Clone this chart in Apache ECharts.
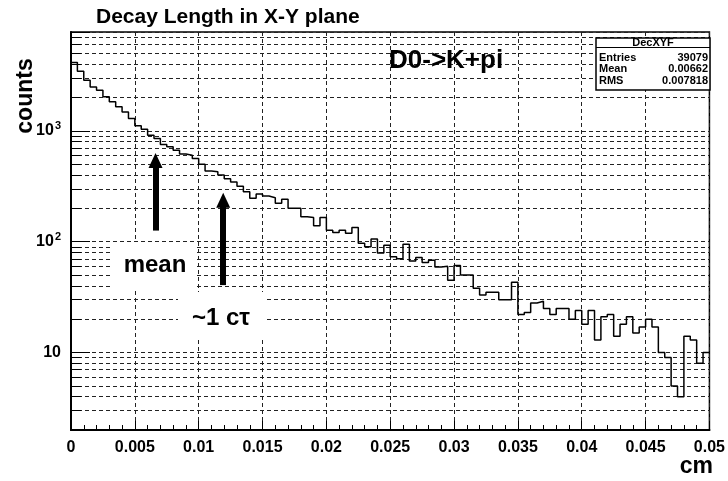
<!DOCTYPE html>
<html><head><meta charset="utf-8">
<script src="https://cdn.jsdelivr.net/npm/echarts@6/dist/echarts.min.js"></script>
<style>html,body{margin:0;padding:0;background:#fff}#c{width:728px;height:481px}</style>
</head><body><div id="c"></div>
<script>
// ---- data ----
const binWidth = 0.0005;
const counts = [
  4130, 3450, 2860, 2490, 2330, 2030, 1830, 1650, 1480, 1290,
  1110, 1035, 915, 853, 754, 718, 670, 617, 604, 564,
  500, 435, 427, 399, 370, 345, 317, 282, 246, 270,
  258, 249, 222, 242, 200, 200, 168, 165, 139, 165,
  127, 121, 127, 119, 134, 97, 90, 106, 79, 93,
  73, 70, 95, 67, 72, 65, 68, 59, 60, 45,
  61, 50, 50, 38, 33, 35, 35, 30, 30, 43,
  22, 23, 28, 29, 25, 22, 25, 25, 20, 24,
  18, 24, 13, 21, 22, 14, 18, 21, 15, 17,
  20, 17, 10, 9, 5, 4, 14, 13, 8, 10
];
const xRange = [0, 0.05];
const xTickStep = 0.005;
const yRange = [2, 7800];
const yMinorGrid = [3,4,5,6,7,8,9, 20,30,40,50,60,70,80,90, 200,300,400,500,600,700,800,900, 2000,3000,4000,5000,6000,7000];
const yMinorTickLen = 0.0008;
const statsTitle = 'DecXYF';
const statsLabels = ['Entries', 'Mean', 'RMS'];
const statsValues = ['39079', '0.00662', '0.007818'];
// annotation arrows: [x, y from, y to]
const meanArrow = [0.00662, 126, 541];
const ctauArrow = [0.01192, 40.6, 236];

const FONT = "'Liberation Sans', Arial, Helvetica, sans-serif";
const dash = [4, 3];

const histData = counts.map((c, i) => [i * binWidth, c]);
histData.push([xRange[1], counts[counts.length - 1]]);

const chart = echarts.init(document.getElementById('c'), null, {renderer: 'canvas'});

function yLabel(v) {
  const e = Math.log10(v);
  if (Math.abs(e - Math.round(e)) > 1e-6) return '';
  const n = Math.round(e);
  if (n === 1) return '{b|10}';
  return '{b|10}{s|' + n + '}';
}

chart.setOption({
  animation: false,
  backgroundColor: '#fff',
  grid: {left: 71, right: 17, top: 32, bottom: 51, show: true, borderColor: '#000', borderWidth: 1.5, backgroundColor: 'transparent'},
  xAxis: {
    type: 'value', min: xRange[0], max: xRange[1], interval: xTickStep,
    axisLine: {show: true, lineStyle: {color: '#000', width: 2}},
    axisTick: {show: true, inside: true, length: 9, lineStyle: {color: '#000', width: 1}},
    minorTick: {show: true, splitNumber: 5, length: 5, lineStyle: {color: '#000', width: 1}},
    splitLine: {show: true, lineStyle: {color: '#222', width: 1, type: dash}},
    axisLabel: {color: '#000', fontFamily: FONT, fontSize: 16, fontWeight: 'bold', margin: 10,
      formatter: v => String(Math.round(v * 1000) / 1000)}
  },
  yAxis: {
    type: 'log', logBase: 10, min: yRange[0], max: yRange[1],
    axisLine: {show: true, lineStyle: {color: '#000', width: 2}},
    axisTick: {show: true, inside: true, length: 19, lineStyle: {color: '#000', width: 1}},
    splitLine: {show: true, lineStyle: {color: '#222', width: 1, type: dash}},
    axisLabel: {color: '#000', fontFamily: FONT, margin: 10, formatter: yLabel,
      rich: {b: {fontSize: 16, fontWeight: 'bold', fontFamily: FONT, color: '#000'},
             s: {fontSize: 11, fontWeight: 'bold', fontFamily: FONT, color: '#000', padding: [0, 0, 10, 1]}}}
  },
  series: [
    {
      type: 'line', step: 'end', data: histData, symbol: 'none', silent: true,
      lineStyle: {color: '#000', width: 1.5}, z: 5,
      markLine: {
        silent: true, symbol: 'none', animation: false,
        label: {show: false},
        lineStyle: {color: '#222', width: 1, type: dash},
        data: yMinorGrid.map(v => ({yAxis: v}))
      }
    },
    {
      type: 'line', data: [], symbol: 'none', silent: true, z: 4,
      markLine: {
        silent: true, symbol: 'none', animation: false,
        label: {show: false},
        lineStyle: {color: '#000', width: 1, type: 'solid'},
        data: yMinorGrid.map(v => [{coord: [xRange[0], v]}, {coord: [xRange[0] + yMinorTickLen, v]}])
      }
    },
    {
      type: 'line', data: [], symbol: 'none', silent: true, z: 6,
      markLine: {
        silent: true, animation: false, symbol: ['none', 'triangle'], symbolSize: [14, 15],
        label: {show: false},
        lineStyle: {color: '#000', width: 6, type: 'solid'},
        itemStyle: {color: '#000'},
        data: [
          [{coord: [meanArrow[0], meanArrow[1]]}, {coord: [meanArrow[0], meanArrow[2]]}],
          [{coord: [ctauArrow[0], ctauArrow[1]]}, {coord: [ctauArrow[0], ctauArrow[2]]}]
        ]
      }
    }
  ],
  graphic: [
    // title (white pave covering top frame)
    {type: 'rect', z: 100, shape: {x: 85, y: 0, width: 318, height: 31}, style: {fill: '#fff'}},
    {type: 'text', z: 101, x: 96, y: 17, style: {text: 'Decay Length in X-Y plane', font: 'bold 21px ' + FONT, fill: '#000', textAlign: 'left', textVerticalAlign: 'middle', verticalAlign: 'middle'}},
    // axis titles
    {type: 'text', z: 101, x: 26, y: 96, rotation: Math.PI / 2, style: {text: 'counts', font: 'bold 23px ' + FONT, fill: '#000', textAlign: 'center', textVerticalAlign: 'middle', verticalAlign: 'middle'}},
    {type: 'text', z: 101, x: 713, y: 467, style: {text: 'cm', font: 'bold 23px ' + FONT, fill: '#000', textAlign: 'right', textVerticalAlign: 'middle', verticalAlign: 'middle'}},
    // decay label
    {type: 'text', z: 101, x: 389, y: 61, style: {text: 'D0->K+pi', font: 'bold 26px ' + FONT, fill: '#000', textAlign: 'left', textVerticalAlign: 'middle', verticalAlign: 'middle'}},
    // mean label box
    {type: 'rect', z: 100, shape: {x: 113, y: 242, width: 83, height: 48}, style: {fill: '#fff'}},
    {type: 'text', z: 101, x: 155, y: 265, style: {text: 'mean', font: 'bold 24px ' + FONT, fill: '#000', textAlign: 'center', textVerticalAlign: 'middle', verticalAlign: 'middle'}},
    // ctau label box
    {type: 'rect', z: 100, shape: {x: 178, y: 292, width: 89, height: 45}, style: {fill: '#fff'}},
    {type: 'text', z: 101, x: 221, y: 318, style: {text: '~1 c\u03c4', font: 'bold 24px ' + FONT, fill: '#000', textAlign: 'center', textVerticalAlign: 'middle', verticalAlign: 'middle'}},
    // stats box
    {type: 'rect', z: 100, shape: {x: 596, y: 38, width: 114, height: 52}, style: {fill: '#fff', stroke: '#000', lineWidth: 1.5}},
    {type: 'line', z: 101, shape: {x1: 596, y1: 47.5, x2: 710, y2: 47.5}, style: {stroke: '#000', lineWidth: 1}},
    {type: 'text', z: 101, x: 653, y: 42.8, style: {text: statsTitle, font: 'bold 11px ' + FONT, fill: '#000', textAlign: 'center', textVerticalAlign: 'middle', verticalAlign: 'middle'}},
  ].concat(statsLabels.map((t, i) => ({type: 'text', z: 101, x: 599, y: 58 + i * 11.3, style: {text: t, font: 'bold 11px ' + FONT, fill: '#000', textAlign: 'left', textVerticalAlign: 'middle', verticalAlign: 'middle'}})))
   .concat(statsValues.map((t, i) => ({type: 'text', z: 101, x: 708, y: 58 + i * 11.3, style: {text: t, font: 'bold 11px ' + FONT, fill: '#000', textAlign: 'right', textVerticalAlign: 'middle', verticalAlign: 'middle'}})))
});
</script>
</body></html>
